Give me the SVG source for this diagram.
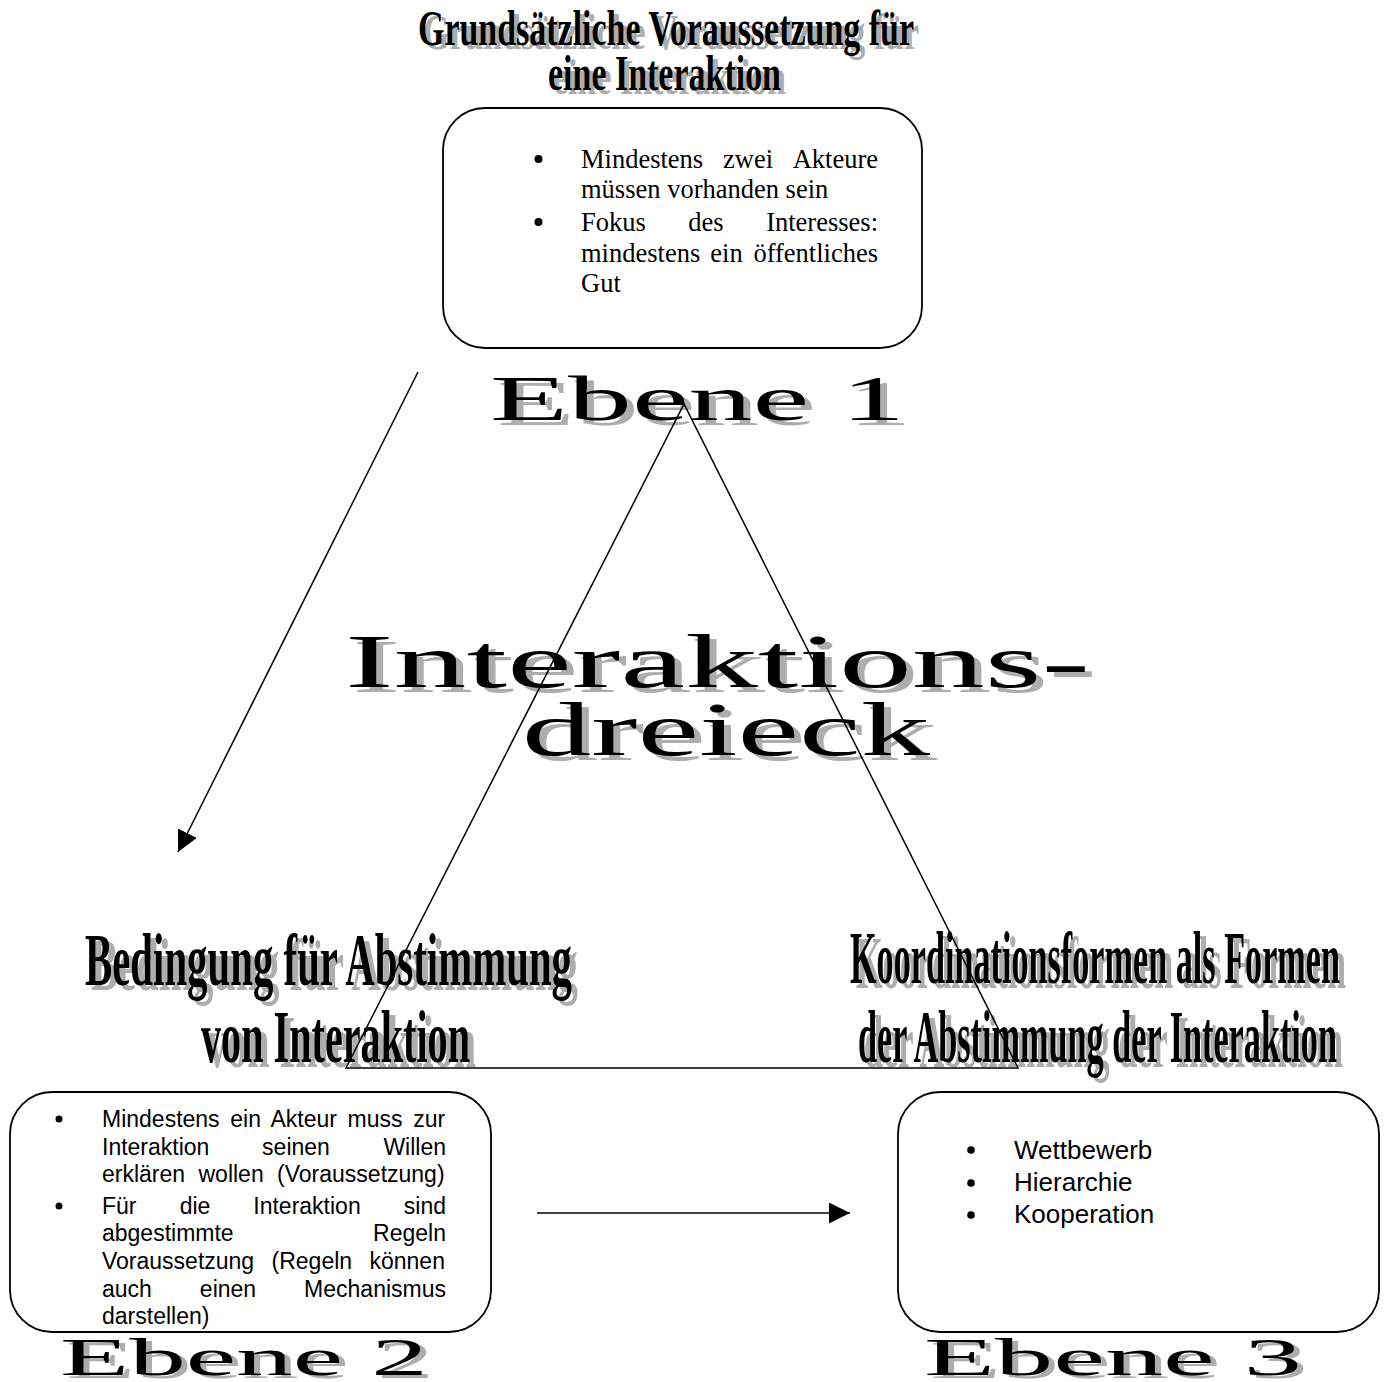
<svg xmlns="http://www.w3.org/2000/svg" width="1388" height="1382" viewBox="0 0 1388 1382">
<defs>
<style>
.wa{font-family:"Liberation Serif","Times New Roman",serif;font-weight:bold;}
.wide{font-family:"Liberation Serif","Times New Roman",serif;font-weight:normal;}
.sh{fill:#adadad;}
.fg{fill:#000;}
.serif{font-family:"Liberation Serif","Times New Roman",serif;font-size:26.5px;fill:#000;}
.sans{font-family:"Liberation Sans",Arial,sans-serif;font-size:23px;fill:#000;}
.sans26{font-family:"Liberation Sans",Arial,sans-serif;font-size:26px;fill:#000;}
.box{fill:#fff;stroke:#000;stroke-width:1.8;}
.line{fill:none;stroke:#000;stroke-width:1.5;}
</style>
<marker id="arrow" markerUnits="userSpaceOnUse" markerWidth="22" markerHeight="22" refX="21" refY="10.5" orient="auto">
<path d="M0,0 L21,10.5 L0,21 Z" fill="#000"/>
</marker>
</defs>
<rect width="1388" height="1382" fill="#fff"/>

<g id="node-ebene1">
<g class="wa" font-size="51">
<text class="sh" x="423" y="49" textLength="496" lengthAdjust="spacingAndGlyphs">Grundsätzliche Voraussetzung für</text>
<text class="fg" x="418" y="45" textLength="496" lengthAdjust="spacingAndGlyphs">Grundsätzliche Voraussetzung für</text>
<text class="sh" x="553" y="94" textLength="233" lengthAdjust="spacingAndGlyphs">eine Interaktion</text>
<text class="fg" x="548" y="90" textLength="233" lengthAdjust="spacingAndGlyphs">eine Interaktion</text>
</g>
<rect class="box" x="443" y="108" width="479" height="240" rx="42" ry="42"/>
<g class="serif">
<circle cx="538.5" cy="159" r="4"/>
<text x="581" y="168">Mindestens</text>
<text x="748" y="168" text-anchor="middle">zwei</text>
<text x="878" y="168" text-anchor="end">Akteure</text>
<text x="581" y="198">müssen vorhanden sein</text>
<circle cx="538.5" cy="222" r="4"/>
<text x="581" y="231">Fokus</text>
<text x="706" y="231" text-anchor="middle">des</text>
<text x="878" y="231" text-anchor="end">Interesses:</text>
<text x="581" y="262">mindestens</text>
<text x="726.5" y="262" text-anchor="middle">ein</text>
<text x="878" y="262" text-anchor="end">öffentliches</text>
<text x="581" y="292">Gut</text>
</g>
<g class="wide" font-size="63">
<text class="sh" x="497" y="425" textLength="415" lengthAdjust="spacingAndGlyphs">Ebene 1</text>
<text class="fg" x="490" y="420" textLength="415" lengthAdjust="spacingAndGlyphs">Ebene 1</text>
</g>
</g>

<g id="node-dreieck">
<g class="wide" font-size="76">
<text class="sh" x="352" y="692" textLength="745" lengthAdjust="spacingAndGlyphs">Interaktions-</text>
<text class="fg" x="345" y="687" textLength="745" lengthAdjust="spacingAndGlyphs">Interaktions-</text>
<text class="sh" x="529" y="760" textLength="408" lengthAdjust="spacingAndGlyphs">dreieck</text>
<text class="fg" x="522" y="755" textLength="408" lengthAdjust="spacingAndGlyphs">dreieck</text>
</g>
</g>

<g id="node-ebene2">
<g class="wa" font-size="74">
<text class="sh" x="91" y="990" textLength="487" lengthAdjust="spacingAndGlyphs">Bedingung für Abstimmung</text>
<text class="fg" x="85" y="985" textLength="487" lengthAdjust="spacingAndGlyphs">Bedingung für Abstimmung</text>
<text class="sh" x="207" y="1067" textLength="269" lengthAdjust="spacingAndGlyphs">von Interaktion</text>
<text class="fg" x="201" y="1062" textLength="269" lengthAdjust="spacingAndGlyphs">von Interaktion</text>
</g>
<rect class="box" x="10" y="1092" width="481" height="240" rx="42" ry="42"/>
<g class="sans">
<circle cx="59" cy="1119" r="3.5"/>
<text x="102" y="1127" word-spacing="4.3">Mindestens ein Akteur muss zur</text>
<text x="102" y="1155">Interaktion</text>
<text x="296" y="1155" text-anchor="middle">seinen</text>
<text x="446" y="1155" text-anchor="end">Willen</text>
<text x="102" y="1182" word-spacing="7">erklären wollen (Voraussetzung)</text>
<circle cx="59" cy="1206" r="3.5"/>
<text x="102" y="1214">Für</text>
<text x="195" y="1214" text-anchor="middle">die</text>
<text x="307" y="1214" text-anchor="middle">Interaktion</text>
<text x="446" y="1214" text-anchor="end">sind</text>
<text x="102" y="1241">abgestimmte</text>
<text x="446" y="1241" text-anchor="end">Regeln</text>
<text x="102" y="1269" word-spacing="11">Voraussetzung (Regeln können</text>
<text x="102" y="1297">auch</text>
<text x="228" y="1297" text-anchor="middle">einen</text>
<text x="446" y="1297" text-anchor="end">Mechanismus</text>
<text x="102" y="1324">darstellen)</text>
</g>
<g class="wide" font-size="52">
<text class="sh" x="66" y="1378" textLength="368" lengthAdjust="spacingAndGlyphs">Ebene 2</text>
<text class="fg" x="60" y="1375" textLength="368" lengthAdjust="spacingAndGlyphs">Ebene 2</text>
</g>
</g>

<g id="node-ebene3">
<g class="wa" font-size="74">
<text class="sh" x="856" y="988" textLength="490" lengthAdjust="spacingAndGlyphs">Koordinationsformen als Formen</text>
<text class="fg" x="850" y="983" textLength="490" lengthAdjust="spacingAndGlyphs">Koordinationsformen als Formen</text>
<text class="sh" x="864" y="1067" textLength="479" lengthAdjust="spacingAndGlyphs">der Abstimmung der Interaktion</text>
<text class="fg" x="858" y="1062" textLength="479" lengthAdjust="spacingAndGlyphs">der Abstimmung der Interaktion</text>
</g>
<rect class="box" x="898" y="1092" width="481" height="240" rx="42" ry="42"/>
<g class="sans26">
<circle cx="971" cy="1150" r="3.8"/>
<text x="1014" y="1159">Wettbewerb</text>
<circle cx="971" cy="1183" r="3.8"/>
<text x="1014" y="1191">Hierarchie</text>
<circle cx="971" cy="1215" r="3.8"/>
<text x="1014" y="1223">Kooperation</text>
</g>
<g class="wide" font-size="52">
<text class="sh" x="930" y="1378" textLength="378" lengthAdjust="spacingAndGlyphs">Ebene 3</text>
<text class="fg" x="924" y="1375" textLength="378" lengthAdjust="spacingAndGlyphs">Ebene 3</text>
</g>
</g>

<g id="triangle">
<path class="line" stroke-width="1.3" d="M346,1068 L684,404 L1018,1068 Z"/>
</g>

<g id="connectors">
<line class="line" x1="418" y1="372" x2="178" y2="852" marker-end="url(#arrow)"/>
<line class="line" x1="537" y1="1213" x2="850" y2="1213" marker-end="url(#arrow)"/>
</g>
</svg>
